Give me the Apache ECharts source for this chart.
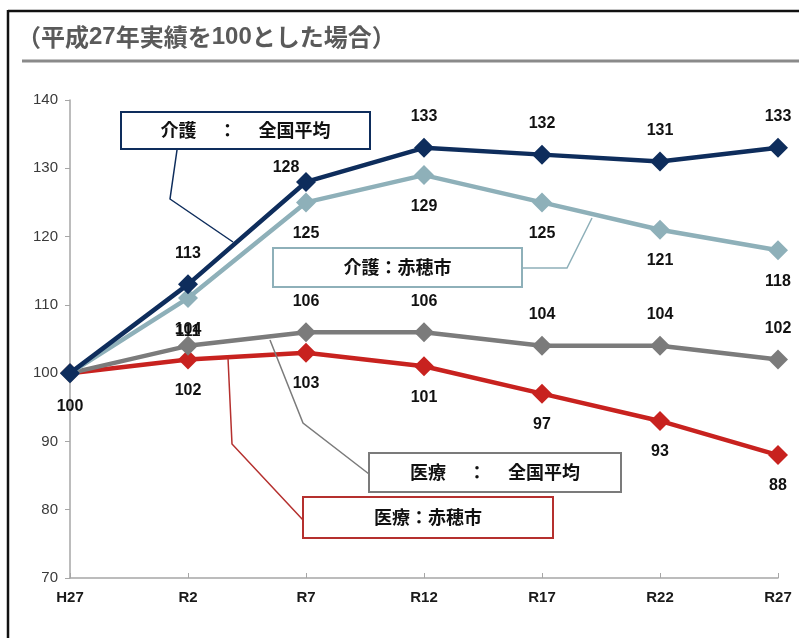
<!DOCTYPE html>
<html>
<head>
<meta charset="utf-8">
<script src="https://cdn.jsdelivr.net/npm/echarts@6/dist/echarts.min.js"></script>
<style>
  html, body { margin: 0; padding: 0; background: #fff; }
  #chart { width: 799px; height: 638px; }
</style>
</head>
<body>
<div id="chart"></div>
<script>
// 年度
const years = ['H27', 'R2', 'R7', 'R12', 'R17', 'R22', 'R27']
// 平成27年実績を100とした指数
const kaigoZenkoku = [100, 113, 128, 133, 132, 131, 133]
const kaigoAko = [100, 111, 125, 129, 125, 121, 118]
const iryoZenkoku = [100, 104, 106, 106, 104, 104, 102]
const iryoAko = [100, 102, 103, 101, 97, 93, 88]
const yTicks = { min: 70, max: 140, interval: 10 }

const numFont = 'Liberation Sans'
const cjkFont = 'Noto Sans CJK JP'

const navy = '#0e2d5c'
const lightBlue = '#8eb0b9'
const gray = '#7b7b7b'
const red = '#c8221f'

function makeData(values, pos, overrides) {
  return values.map((v, i) => {
    const item = { value: v, label: { position: pos } }
    if (i === 0) item.label.show = false
    if (overrides && overrides[i]) Object.assign(item.label, overrides[i])
    return item
  })
}

function lineSeries(name, color, data, z) {
  return {
    name: name,
    type: 'line',
    data: data,
    z: z,
    symbol: 'diamond',
    symbolSize: 20,
    lineStyle: { color: color, width: 4.5 },
    itemStyle: { color: color },
    label: {
      show: true,
      distance: 13,
      color: '#111',
      fontFamily: numFont,
      fontWeight: 'bold',
      fontSize: 16
    },
    animation: false
  }
}

function callout(x, y, w, h, color, text) {
  return {
    type: 'group',
    children: [
      {
        type: 'rect',
        shape: { x: x, y: y, width: w, height: h },
        style: { fill: '#fff', stroke: color, lineWidth: 2 },
        z: 20
      },
      {
        type: 'text',
        x: x + w / 2,
        y: y + h / 2,
        style: {
          text: text,
          fill: '#111',
          font: 'bold 18px "' + cjkFont + '"',
          textAlign: 'center',
          textVerticalAlign: 'middle'
        },
        z: 21
      }
    ]
  }
}

function leader(points, color) {
  return {
    type: 'polyline',
    shape: { points: points },
    style: { stroke: color, lineWidth: 1.5, fill: null },
    z: 15
  }
}

const chart = echarts.init(document.getElementById('chart'))

chart.setOption({
  backgroundColor: '#fff',
  title: {
    text: '{p|（平成}{b|27}{p|年実績を}{b|100}{p|とした場合）}',
    left: 12,
    top: 20,
    textStyle: {
      rich: {
        p: { fontFamily: cjkFont, fontSize: 24, color: '#5a5a5a' },
        b: { fontFamily: numFont, fontSize: 24, fontWeight: 'bold', color: '#5a5a5a' }
      }
    }
  },
  grid: { left: 70, right: 21, top: 100, bottom: 60 },
  xAxis: {
    type: 'category',
    data: years,
    boundaryGap: false,
    axisLine: { lineStyle: { color: '#a6a6a6', width: 1.5 } },
    axisTick: { inside: true, length: 5, lineStyle: { color: '#a6a6a6' } },
    axisLabel: {
      margin: 12,
      color: '#1a1a1a',
      fontFamily: numFont,
      fontWeight: 'bold',
      fontSize: 15
    },
    splitLine: { show: false }
  },
  yAxis: {
    type: 'value',
    min: yTicks.min,
    max: yTicks.max,
    interval: yTicks.interval,
    axisLine: { show: true, lineStyle: { color: '#a6a6a6', width: 1.5 } },
    axisTick: { show: true, length: 5, lineStyle: { color: '#a6a6a6' } },
    axisLabel: {
      margin: 12,
      color: '#3a3a3a',
      fontFamily: numFont,
      fontSize: 15
    },
    splitLine: { show: false }
  },
  series: [
    lineSeries('医療：赤穂市', red,
      makeData(iryoAko, 'bottom', { 0: { show: true, distance: 15 } }), 2),
    lineSeries('医療：全国平均', gray,
      makeData(iryoZenkoku, 'top', { 1: { offset: [0, 15] } }), 3),
    lineSeries('介護：赤穂市', lightBlue,
      makeData(kaigoAko, 'bottom', { 1: { distance: 16 } }), 4),
    lineSeries('介護：全国平均', navy,
      makeData(kaigoZenkoku, 'top', { 2: { offset: [-20, 17] } }), 5)
  ],
  graphic: [
    // 外枠
    { type: 'line', shape: { x1: 8, y1: 11, x2: 799, y2: 11 }, style: { stroke: '#111', lineWidth: 2.5 } },
    { type: 'line', shape: { x1: 8, y1: 10, x2: 8, y2: 638 }, style: { stroke: '#111', lineWidth: 2.5 } },
    // タイトル下線
    { type: 'line', shape: { x1: 22, y1: 61, x2: 799, y2: 61 }, style: { stroke: '#8a8a8a', lineWidth: 3 } },
    // 吹き出し
    leader([[177, 150], [170, 199], [233, 242]], navy),
    callout(121, 112, 249, 37, navy, '介護 　：　 全国平均'),
    leader([[522, 268], [567, 268], [592, 218]], lightBlue),
    callout(273, 248, 249, 39, lightBlue, '介護：赤穂市'),
    leader([[270, 340], [303, 423], [369, 474]], gray),
    callout(369, 453, 252, 39, gray, '医療 　：　 全国平均'),
    leader([[228, 358], [232, 444], [303, 520]], '#b5302e'),
    callout(303, 497, 250, 41, '#b5302e', '医療：赤穂市')
  ]
})
</script>
</body>
</html>
